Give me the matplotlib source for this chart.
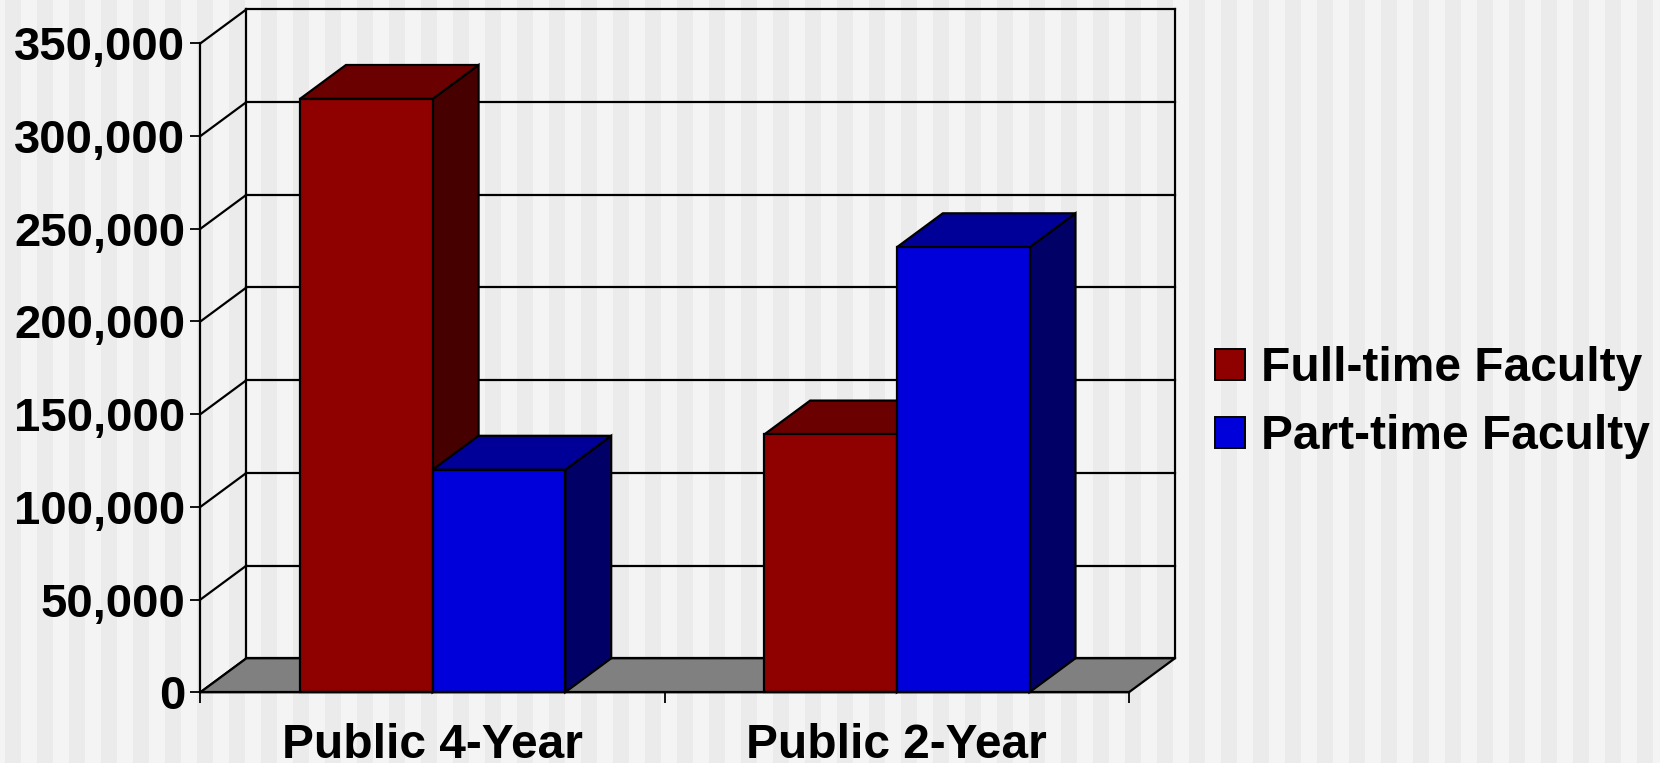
import numpy as np
import matplotlib.pyplot as plt
from matplotlib.patches import Polygon, Patch
from matplotlib.ticker import FuncFormatter

# Faculty headcounts by institution type
categories = ["Public 4-Year", "Public 2-Year"]
series_names = ["Full-time Faculty", "Part-time Faculty"]
full_time = [320000, 139000]
part_time = [120000, 240000]
y_ticks = [0, 50000, 100000, 150000, 200000, 250000, 300000, 350000]

# face colours: front, top, side
reds = ("#8F0000", "#6B0000", "#470000")
blues = ("#0000DA", "#000099", "#000066")

plt.rcParams["font.family"] = ["Liberation Sans", "DejaVu Sans"]
plt.rcParams["font.weight"] = "bold"

W, H = 1660, 763
fig = plt.figure(figsize=(W / 100, H / 100), dpi=100)

# striped backdrop, 16 px bands
cols = ((np.arange(W) - 5) // 16) % 2
row = np.where(cols == 0, 235, 244) / 255.0
bg = np.repeat(np.tile(row, (H, 1))[:, :, None], 3, axis=2)
fig.figimage(bg, 0, 0, zorder=-10)

ax = fig.add_axes([0.12078, 0.09279, 0.55934, 0.85046])
ax.set_zorder(1)
ax.set_facecolor("none")
ymax = y_ticks[-1]
ax.set_xlim(0, 2)
ax.set_ylim(0, ymax)

# depth offset of the 3-D box, in data units
DX, DY = 0.099, 18300
lw = 1.6

# back wall grid + frame
for t in y_ticks:
    ax.plot([DX, 2 + DX], [t + DY, t + DY], color="black", lw=lw, clip_on=False, zorder=1)
    ax.plot([0, DX], [t, t + DY], color="black", lw=lw, clip_on=False, zorder=1)
ax.plot([DX, DX], [DY, ymax + DY], color="black", lw=lw, clip_on=False, zorder=1)
ax.plot([2 + DX, 2 + DX], [DY, ymax + DY], color="black", lw=lw, clip_on=False, zorder=1)

# floor
floor = Polygon([(0, 0), (2, 0), (2 + DX, DY), (DX, DY)], closed=True,
                facecolor="#808080", edgecolor="black", lw=lw, zorder=2, clip_on=False)
ax.add_patch(floor)

# bars
bw = 1 / 3.5
z = 3
for i in range(len(categories)):
    for vals, shades, off in ((full_time, reds, -bw), (part_time, blues, 0)):
        x0 = i + 0.5 + off
        x1 = x0 + bw
        h = vals[i]
        side = Polygon([(x1, 0), (x1 + DX, DY), (x1 + DX, h + DY), (x1, h)],
                       facecolor=shades[2], edgecolor="black", lw=lw, zorder=z, clip_on=False)
        top = Polygon([(x0, h), (x1, h), (x1 + DX, h + DY), (x0 + DX, h + DY)],
                      facecolor=shades[1], edgecolor="black", lw=lw, zorder=z, clip_on=False)
        ax.add_patch(side)
        ax.add_patch(top)
        ax.bar(x0, h, width=bw, align="edge", color=shades[0], edgecolor="black",
               lw=lw, zorder=z + 0.5, clip_on=False)
        z += 1

# axes styling
for s in ("top", "right"):
    ax.spines[s].set_visible(False)
ax.spines["left"].set_linewidth(lw)
ax.spines["bottom"].set_linewidth(lw)
ax.spines["left"].set_zorder(20)
ax.spines["bottom"].set_zorder(20)

ax.set_yticks(y_ticks)
ax.yaxis.set_major_formatter(FuncFormatter(lambda v, p: f"{int(v):,}"))
ax.tick_params(axis="y", length=7.2, width=1.3, pad=3.8, labelsize=34)

ax.set_xticks([0, 1, 2])
ax.set_xticklabels([])
ax.tick_params(axis="x", which="major", length=8, width=1.3)
ax.set_xticks([0.5, 1.5], minor=True)
ax.set_xticklabels(categories, minor=True)
ax.tick_params(axis="x", which="minor", length=0, pad=22.5, labelsize=34.5)

handles = [Patch(facecolor=reds[0], edgecolor="black", lw=1.4),
           Patch(facecolor=blues[0], edgecolor="black", lw=1.4)]
fig.legend(handles, series_names, loc="upper left", bbox_to_anchor=(1215 / W, 0.5465),
           frameon=False, fontsize=34.5, handlelength=0.626, handleheight=0.626,
           handletextpad=0.33, labelspacing=0.49, borderpad=0, borderaxespad=0)

fig.savefig("out.png", dpi=100)
